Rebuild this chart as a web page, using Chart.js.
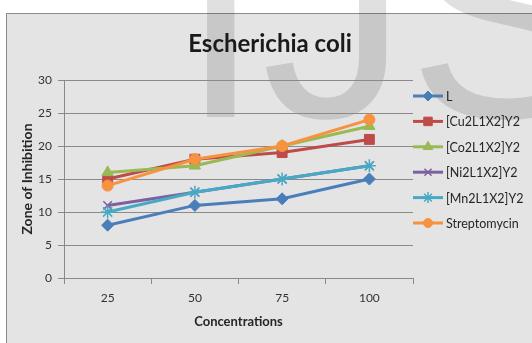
<!DOCTYPE html>
<html>
<head>
<meta charset="utf-8">
<script src="https://cdn.jsdelivr.net/npm/chart.js@4.4.1/dist/chart.umd.min.js"></script>
<style>
  html, body { margin: 0; padding: 0; background: #ffffff; }
  #wrap { width: 532px; height: 343px; position: relative; }
</style>
</head>
<body>
<div id="wrap"><canvas id="c" width="532" height="343"></canvas></div>
<script>
// Concentrations tested and the zone of inhibition measured for each compound
const chartTitle = 'Escherichia coli';
const concentrations = ['25', '50', '75', '100'];
const seriesNames = ['L', '[Cu2L1X2]Y2', '[Co2L1X2]Y2', '[Ni2L1X2]Y2', '[Mn2L1X2]Y2', 'Streptomycin'];
const zoneL            = [8, 11, 12, 15];
const zoneCu           = [15, 18, 19, 21];
const zoneCo           = [16, 17, 20, 23];
const zoneNi           = [11, 13, 15, 17];
const zoneMn           = [10, 13, 15, 17];
const zoneStreptomycin = [14, 18, 20, 24];
const yTicks = [0, 5, 10, 15, 20, 25, 30];

const seriesValues = [zoneL, zoneCu, zoneCo, zoneNi, zoneMn, zoneStreptomycin];
const seriesColors = ['#4A7EBB', '#BE4B48', '#98B954', '#7D60A0', '#46AAC5', '#F69240'];
const seriesMarkers = ['rectRot', 'rect', 'triangle', 'crossRot', 'star', 'circle'];
const markerRadius = [6, 7, 6.5, 6, 6.5, 5.5];

const FONT = 'Lato, "Open Sans", "DejaVu Sans", sans-serif';

const datasets = seriesNames.map((name, i) => ({
  label: name,
  data: seriesValues[i],
  borderColor: seriesColors[i],
  backgroundColor: seriesColors[i],
  borderWidth: 3,
  pointStyle: seriesMarkers[i],
  pointRadius: markerRadius[i],
  pointBorderWidth: (seriesMarkers[i] === 'crossRot' || seriesMarkers[i] === 'star') ? 1.5 : 1,
  pointBackgroundColor: seriesColors[i],
  pointBorderColor: seriesColors[i],
  tension: 0,
  fill: false,
  order: seriesNames.length - i
}));

// Panel background, frame and the faint "IJS" mark behind the plot
const panelPlugin = {
  id: 'panel',
  beforeDraw(chart) {
    const ctx = chart.ctx;
    ctx.save();
    ctx.fillStyle = '#ffffff';
    ctx.fillRect(0, 0, chart.width, chart.height);
    ctx.fillStyle = '#e4e4e4';
    ctx.fillRect(6.5, 13.5, chart.width, chart.height);
    ctx.strokeStyle = '#8c8c8c';
    ctx.lineWidth = 1;
    ctx.strokeRect(6.5, 13.5, chart.width, chart.height);
    ctx.fillStyle = 'rgba(0,0,0,0.12)';
    ctx.font = '293px "Liberation Sans", Arial, sans-serif';
    ctx.textBaseline = 'alphabetic';
    ctx.textAlign = 'left';
    ctx.fillText('IJS', 180, 117);
    ctx.restore();
  },
  afterDraw(chart) {
    const ctx = chart.ctx;
    ctx.save();
    ctx.fillStyle = '#1a1a1a';
    ctx.font = 'bold 24px ' + FONT;
    ctx.textAlign = 'center';
    ctx.textBaseline = 'alphabetic';
    ctx.fillText(chartTitle, 270, 52);
    ctx.restore();
  }
};

// Legend: line sample with the series marker, label to the right
const legendPlugin = {
  id: 'lineLegend',
  afterDraw(chart) {
    const ctx = chart.ctx;
    const x0 = 413, x1 = 443, top = 96, step = 25.4;
    ctx.save();
    chart.data.datasets.forEach((ds, i) => {
      const y = top + i * step;
      ctx.strokeStyle = ds.borderColor;
      ctx.lineWidth = 3;
      ctx.beginPath();
      ctx.moveTo(x0, y);
      ctx.lineTo(x1, y);
      ctx.stroke();
      ctx.fillStyle = ds.pointBackgroundColor;
      ctx.strokeStyle = ds.pointBorderColor;
      ctx.lineWidth = ds.pointBorderWidth;
      Chart.helpers.drawPoint(ctx, {
        pointStyle: ds.pointStyle,
        rotation: 0,
        radius: Math.max(ds.pointRadius - 1, 4),
        borderWidth: ds.pointBorderWidth
      }, (x0 + x1) / 2, y);
      ctx.fillStyle = '#262626';
      ctx.font = '12.5px ' + FONT;
      ctx.textAlign = 'left';
      ctx.textBaseline = 'middle';
      ctx.fillText(ds.label, x1 + 3, y + 1);
    });
    ctx.restore();
  }
};

new Chart(document.getElementById('c'), {
  type: 'line',
  data: { labels: concentrations, datasets },
  plugins: [panelPlugin, legendPlugin],
  options: {
    responsive: false,
    animation: false,
    devicePixelRatio: 1,
    layout: { padding: { left: 0, right: 119, top: 80, bottom: 0 } },
    plugins: {
      legend: { display: false },
      tooltip: { enabled: false },
      title: { display: false }
    },
    scales: {
      x: {
        type: 'category',
        offset: true,
        afterFit(scale) { scale.height = 65; },
        grid: {
          offset: true,
          drawOnChartArea: false,
          drawTicks: true,
          tickLength: 6,
          color: '#8a8a8a',
          lineWidth: 1
        },
        border: { display: true, color: '#8a8a8a', width: 1 },
        ticks: {
          color: '#333333',
          font: { family: FONT, size: 12 },
          padding: 7,
          maxRotation: 0
        },
        title: {
          display: true,
          text: 'Concentrations',
          color: '#262626',
          font: { family: FONT, size: 13, weight: 'bold', lineHeight: 1.2 },
          padding: { top: 0, bottom: 13.2 }
        }
      },
      y: {
        min: 0,
        max: 30,
        afterFit(scale) { scale.width = 64; },
        afterBuildTicks(scale) { scale.ticks = yTicks.map(v => ({ value: v })); },
        grid: {
          color: '#8a8a8a',
          lineWidth: 1,
          drawTicks: true,
          tickLength: 6
        },
        border: { display: true, color: '#8a8a8a', width: 1 },
        ticks: {
          color: '#333333',
          font: { family: FONT, size: 12 },
          padding: 6
        },
        title: {
          display: true,
          text: 'Zone of Inhibition',
          color: '#262626',
          font: { family: FONT, size: 14, weight: 'bold', lineHeight: 1.2 },
          padding: { top: 18.6, bottom: 0 }
        }
      }
    }
  }
});
</script>
</body>
</html>
